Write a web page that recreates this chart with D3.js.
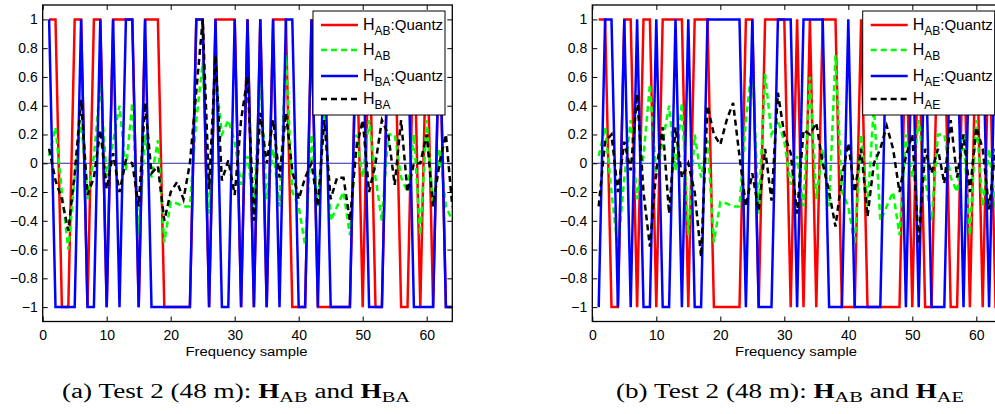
<!DOCTYPE html>
<html>
<head>
<meta charset="utf-8">
<script src="https://cdn.jsdelivr.net/npm/d3@7"></script>
<style>
  html, body { margin: 0; padding: 0; background: #fff; }
  svg { display: block; overflow: hidden; }
</style>
</head>
<body>
<svg id="chart" width="995" height="414"></svg>
<script>
// ---------- DATA ----------
const samples = d3.range(1, 65);
const xTicks = [0, 10, 20, 30, 40, 50, 60];
const yTicks = [1, 0.8, 0.6, 0.4, 0.2, 0, -0.2, -0.4, -0.6, -0.8, -1];

const hABQuant = [1,1,-1,-1,1,1,-1,1,1,-1,1,1,1,1,-1,1,1,1,-1,-1,-1,-1,-1,1,1,-1,1,1,1,1,-1,1,-1,1,-1,1,1,1,-1,-1,-1,1,-1,-1,-1,-1,-1,-1,1,-1,1,-1,-1,1,1,-1,-1,1,-1,1,-1,1,-1,-1];
const hAB = [0.05,0.25,-0.2,-0.6,-0.1,0.3,-0.25,0.05,0.55,-0.1,0.15,0.4,-0.05,0.42,-0.5,0.2,-0.1,0.16,-0.55,-0.27,-0.28,-0.3,-0.3,0.3,0.7,-0.35,0.62,0.2,0.3,0.15,-0.15,0.05,-0.3,0.6,-0.25,0.1,-0.3,0.75,-0.2,-0.3,-0.57,0.2,-0.3,0.4,-0.4,-0.3,-0.2,-0.5,0.2,-0.1,0.3,-0.1,-0.4,0.2,0.2,-0.1,-0.2,0.2,-0.5,0.3,-0.3,0.1,-0.3,-0.4];
const hBAQuant = [1,-1,-1,-1,-1,1,-1,-1,1,-1,1,-1,1,1,-1,1,-1,-1,-1,-1,-1,-1,-1,1,1,-1,1,-1,-1,1,-1,1,-1,1,-1,1,-1,1,1,-1,-1,1,-1,1,-1,-1,-1,-1,1,1,-1,-1,-1,1,1,1,1,-1,-1,-1,-1,1,-1,-1];
const hBA = [0.1,-0.12,-0.25,-0.47,-0.07,0.44,-0.22,-0.1,0.23,-0.18,0.07,-0.2,0.02,0.0,-0.3,0.42,-0.07,-0.02,-0.4,-0.2,-0.13,-0.25,0.0,0.5,1.0,-0.18,0.75,-0.12,0.02,-0.22,0.3,0.6,-0.4,0.35,0.0,0.3,-0.1,0.35,-0.05,-0.25,-0.1,0.0,-0.3,0.3,-0.25,-0.1,-0.1,-0.4,0.1,0.3,-0.2,0.0,0.3,0.2,-0.15,0.3,-0.2,0.0,0.0,0.2,-0.3,0.0,0.2,-0.3];
const hAEQuant = [-1,1,1,-1,1,-1,1,-1,-1,1,-1,-1,1,-1,1,-1,-1,1,1,1,1,1,1,-1,1,-1,-1,-1,1,1,1,-1,1,1,1,1,-1,-1,-1,1,-1,-1,-1,-1,-1,1,1,1,-1,1,-1,1,-1,-1,-1,1,1,-1,1,1,1,-1,1,1];
const hAE = [-0.3,0.15,0.2,-0.2,0.15,-0.05,0.48,-0.2,-0.58,-0.05,0.25,-0.35,0.25,-0.1,0.0,-0.2,-0.65,0.4,0.2,0.13,0.3,0.42,0.05,-0.3,-0.07,-0.33,0.1,-0.26,0.49,0.2,0.07,-0.35,0.23,0.2,0.28,0.0,-0.2,-0.44,-0.1,0.14,-0.2,0.1,-0.37,0.0,0.1,0.26,0.1,-0.2,0.05,0.2,-0.56,0.1,-0.07,0.1,-0.14,0.3,-0.1,0.2,-0.2,0.25,0.1,-0.32,0.1,-0.3];

const panels = [
  { left: 42.7, label: "a", series: [
      { name: "AB", suffix: ":Quantz", values: hABQuant, color: "#ff0000", dash: null },
      { name: "AB", suffix: "", values: hAB, color: "#00ff00", dash: "6,4" },
      { name: "BA", suffix: ":Quantz", values: hBAQuant, color: "#0000ff", dash: null },
      { name: "BA", suffix: "", values: hBA, color: "#000000", dash: "6,4" } ],
    legendX: 313, caption: ["(a) Test 2 (48 m): ", "AB", "BA"], capX: 236 },
  { left: 592.3, label: "b", series: [
      { name: "AB", suffix: ":Quantz", values: hABQuant, color: "#ff0000", dash: null },
      { name: "AB", suffix: "", values: hAB, color: "#00ff00", dash: "6,4" },
      { name: "AE", suffix: ":Quantz", values: hAEQuant, color: "#0000ff", dash: null },
      { name: "AE", suffix: "", values: hAE, color: "#000000", dash: "6,4" } ],
    legendX: 862.7, caption: ["(b) Test 2 (48 m): ", "AB", "AE"], capX: 790 }
];

// ---------- DRAW ----------
const svg = d3.select("#chart");
const yTop = 5, yBottom = 321.5, pxPerUnit = 6.4;

panels.forEach(p => {
  const x = d3.scaleLinear().domain([0, 64]).range([p.left, p.left + 64 * pxPerUnit]);
  const y = d3.scaleLinear().domain([-1.1, 1.1]).range([yBottom, yTop]);
  const g = svg.append("g");

  const clipId = "clip" + p.label;
  g.append("clipPath").attr("id", clipId).append("rect")
    .attr("x", x(0)).attr("y", yTop).attr("width", x(64) - x(0)).attr("height", yBottom - yTop);

  const plot = g.append("g").attr("clip-path", `url(#${clipId})`);
  const line = d3.line().x((d, i) => x(samples[i])).y(d => y(d));

  plot.append("line").attr("x1", x(0)).attr("x2", x(64)).attr("y1", y(0)).attr("y2", y(0))
    .attr("stroke", "#2a2a9a").attr("stroke-width", 1);

  p.series.forEach(s => {
    plot.append("path").datum(s.values).attr("d", line)
      .attr("fill", "none").attr("stroke", s.color).attr("stroke-width", 2.5)
      .attr("stroke-dasharray", s.dash).attr("stroke-linejoin", "miter");
  });

  const axB = d3.axisBottom(x).tickValues(xTicks).tickSizeInner(-5).tickSizeOuter(0).tickPadding(9);
  const axT = d3.axisTop(x).tickValues(xTicks).tickSizeInner(-5).tickSizeOuter(0).tickFormat("");
  const axL = d3.axisLeft(y).tickValues(yTicks).tickSizeInner(-5).tickSizeOuter(0).tickPadding(5)
    .tickFormat(d => d === 0 ? "0" : (d < 0 ? "\u2212" : "") + d3.format("")(Math.abs(d)));
  const axR = d3.axisRight(y).tickValues(yTicks).tickSizeInner(-5).tickSizeOuter(0).tickFormat("");

  const gb = g.append("g").attr("transform", `translate(0,${yBottom})`).call(axB);
  const gt = g.append("g").attr("transform", `translate(0,${yTop})`).call(axT);
  const gl = g.append("g").attr("transform", `translate(${x(0)},0)`).call(axL);
  const gr = g.append("g").attr("transform", `translate(${x(64)},0)`).call(axR);
  [gb, gt, gl, gr].forEach(a => {
    a.select(".domain").remove();
    a.selectAll("line").attr("stroke", "#000").attr("stroke-width", 1);
    a.selectAll("text").attr("font-family", "Liberation Sans, Arial, sans-serif")
      .attr("font-size", 14).attr("fill", "#000");
  });
  g.append("rect").attr("x", x(0)).attr("y", yTop).attr("width", x(64) - x(0)).attr("height", yBottom - yTop)
    .attr("fill", "none").attr("stroke", "#000").attr("stroke-width", 1.3);

  g.append("text").attr("x", (x(0) + x(64)) / 2 - 1).attr("y", 356).attr("text-anchor", "middle")
    .attr("font-family", "Liberation Sans, Arial, sans-serif").attr("font-size", 12)
    .attr("textLength", 122).attr("lengthAdjust", "spacingAndGlyphs").text("Frequency sample");

  const lg = g.append("g");
  lg.append("rect").attr("x", p.legendX).attr("y", 11).attr("width", 132).attr("height", 104)
    .attr("fill", "#fff").attr("stroke", "#000").attr("stroke-width", 1);
  const rowsY = [25, 50, 76, 99];
  p.series.forEach((s, i) => {
    const ry = rowsY[i];
    lg.append("line").attr("x1", p.legendX + 8).attr("x2", p.legendX + 45).attr("y1", ry).attr("y2", ry)
      .attr("stroke", s.color).attr("stroke-width", 2.5).attr("stroke-dasharray", s.dash);
    const t = lg.append("text").attr("x", p.legendX + 50).attr("y", ry + 5)
      .attr("font-family", "Liberation Sans, Arial, sans-serif").attr("font-size", 16).attr("fill", "#000");
    t.append("tspan").text("H");
    t.append("tspan").attr("font-size", 12).attr("dy", 5).text(s.name);
    if (s.suffix) t.append("tspan").attr("font-size", 15).attr("dy", -5).text(s.suffix);
  });

  const c = svg.append("text").attr("x", p.capX).attr("y", 398).attr("text-anchor", "middle")
    .attr("font-family", "Liberation Serif, Times New Roman, serif").attr("font-size", 20).attr("fill", "#000")
    .attr("textLength", 348).attr("lengthAdjust", "spacingAndGlyphs");
  c.append("tspan").text(p.caption[0]);
  c.append("tspan").attr("font-weight", "bold").text("H");
  c.append("tspan").attr("font-size", 15).attr("dy", 4).text(p.caption[1]);
  c.append("tspan").attr("dy", -4).text(" and ");
  c.append("tspan").attr("font-weight", "bold").text("H");
  c.append("tspan").attr("font-size", 15).attr("dy", 4).text(p.caption[2]);
});
</script>
</body>
</html>
